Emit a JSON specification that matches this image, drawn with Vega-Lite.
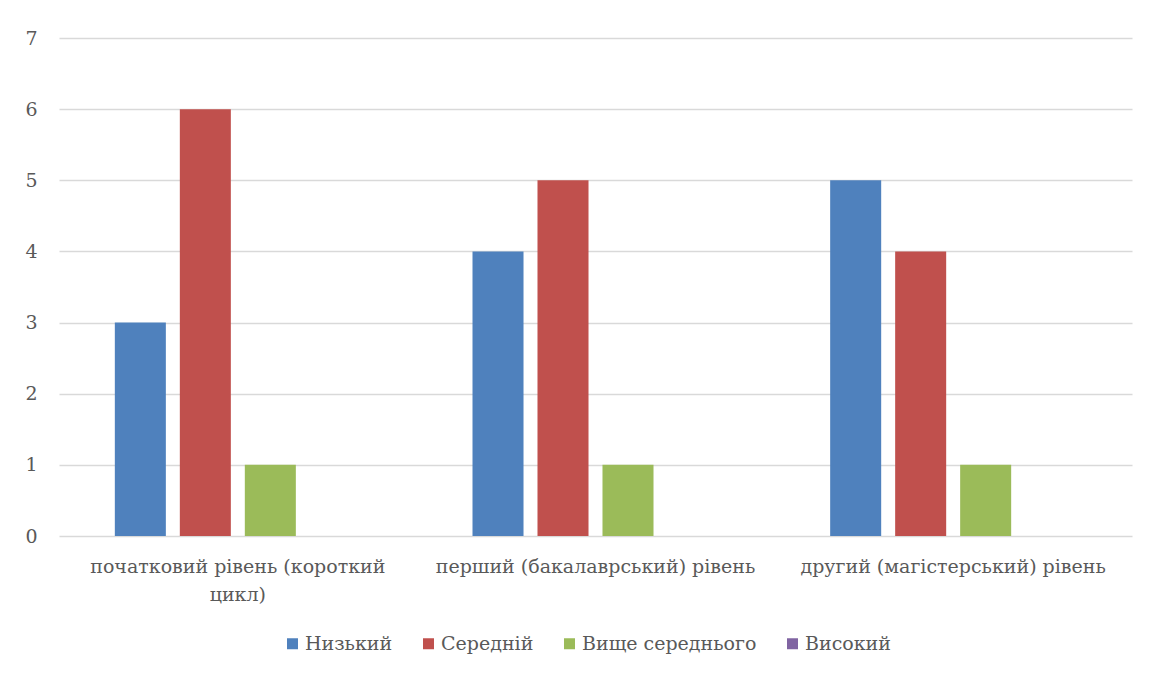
{
  "$schema": "https://vega.github.io/schema/vega-lite/v6.json",
  "width": 1073,
  "height": 498,
  "autosize": {"type": "none"},
  "padding": {"left": 59, "top": 38, "right": 33, "bottom": 141},
  "background": "white",
  "data": {
    "values": [
      {"level": "початковий рівень (короткий цикл)", "grade": "Низький", "count": 3},
      {"level": "початковий рівень (короткий цикл)", "grade": "Середній", "count": 6},
      {"level": "початковий рівень (короткий цикл)", "grade": "Вище середнього", "count": 1},
      {"level": "початковий рівень (короткий цикл)", "grade": "Високий", "count": 0},
      {"level": "перший (бакалаврський) рівень", "grade": "Низький", "count": 4},
      {"level": "перший (бакалаврський) рівень", "grade": "Середній", "count": 5},
      {"level": "перший (бакалаврський) рівень", "grade": "Вище середнього", "count": 1},
      {"level": "перший (бакалаврський) рівень", "grade": "Високий", "count": 0},
      {"level": "другий (магістерський) рівень", "grade": "Низький", "count": 5},
      {"level": "другий (магістерський) рівень", "grade": "Середній", "count": 4},
      {"level": "другий (магістерський) рівень", "grade": "Вище середнього", "count": 1},
      {"level": "другий (магістерський) рівень", "grade": "Високий", "count": 0}
    ]
  },
  "mark": {"type": "bar"},
  "encoding": {
    "x": {
      "field": "level",
      "type": "nominal",
      "sort": null,
      "scale": {"paddingInner": 0, "paddingOuter": 0},
      "axis": {
        "title": null,
        "domain": false,
        "ticks": false,
        "labelAngle": 0,
        "labelPadding": 21,
        "labelLineHeight": 28,
        "labelLimit": 0,
        "labelExpr": "datum.label == 'початковий рівень (короткий цикл)' ? ['початковий рівень (короткий', 'цикл)'] : datum.label"
      }
    },
    "xOffset": {
      "field": "grade",
      "type": "nominal",
      "sort": ["Низький", "Середній", "Вище середнього", "Високий"],
      "scale": {"paddingInner": 0.215, "paddingOuter": 0.859}
    },
    "y": {
      "field": "count",
      "type": "quantitative",
      "scale": {"domain": [0, 7], "nice": false},
      "axis": {
        "title": null,
        "values": [0, 1, 2, 3, 4, 5, 6, 7],
        "domain": false,
        "ticks": false,
        "labelPadding": 22,
        "grid": true,
        "gridColor": "#d9d9d9",
        "gridWidth": 1.5
      }
    },
    "color": {
      "field": "grade",
      "type": "nominal",
      "sort": ["Низький", "Середній", "Вище середнього", "Високий"],
      "scale": {
        "domain": ["Низький", "Середній", "Вище середнього", "Високий"],
        "range": ["#4f81bd", "#c0504d", "#9bbb59", "#8064a2"]
      },
      "legend": {
        "title": null,
        "orient": "none",
        "direction": "horizontal",
        "legendX": 224,
        "legendY": 596,
        "symbolType": "square",
        "symbolSize": 121,
        "symbolStrokeWidth": 0,
        "labelOffset": 3,
        "labelLimit": 0,
        "columnPadding": 26
      }
    }
  },
  "config": {
    "view": {"stroke": null},
    "font": "DejaVu Serif",
    "axis": {
      "labelFont": "DejaVu Serif",
      "labelFontSize": 19,
      "labelColor": "#595959"
    },
    "legend": {
      "labelFont": "DejaVu Serif",
      "labelFontSize": 19,
      "labelColor": "#595959"
    }
  }
}
